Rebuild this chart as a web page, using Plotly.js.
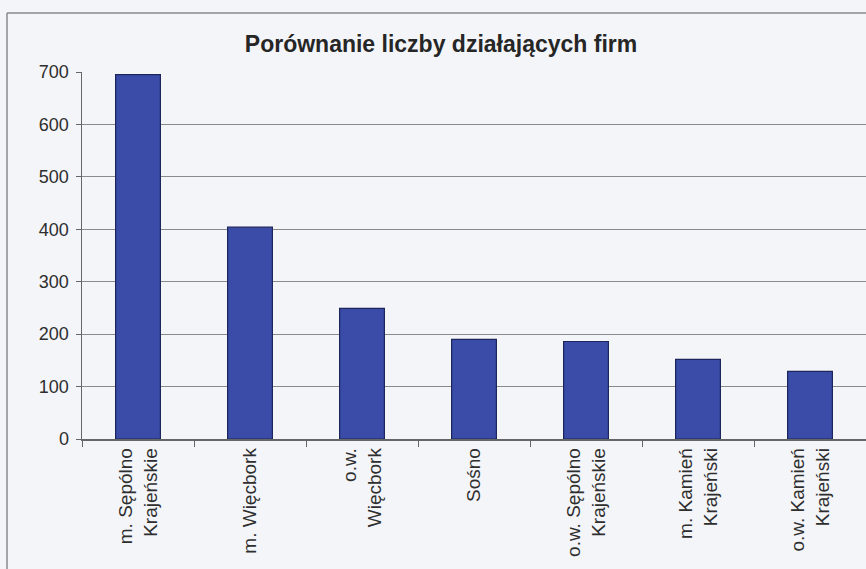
<!DOCTYPE html>
<html>
<head>
<meta charset="utf-8">
<script src="https://cdn.plot.ly/plotly-3.0.1.min.js"></script>
<style>html,body{margin:0;padding:0;background:#f4f5f9;}</style>
</head>
<body>
<div id="chart" style="width:866px;height:569px;"></div>
<script>
const categories = [
  "m. Sępólno<br>Krajeńskie",
  "m. Więcbork",
  "o.w.<br>Więcbork",
  "Sośno",
  "o.w. Sępólno<br>Krajeńskie",
  "m. Kamień<br>Krajeński",
  "o.w. Kamień<br>Krajeński"
];
const firmCounts = [695, 404, 249, 190, 186, 152, 129];
const yTicks = [0, 100, 200, 300, 400, 500, 600, 700];

const W = 866, H = 569;
const L = 82, R = 0, T = 72, B = 130;
const pw = W - L - R, ph = H - T - B;
function px(x){ return (x - L) / pw; }
function py(y){ return (H - B - y) / ph; }

const data = [{
  type: 'bar',
  x: categories,
  y: firmCounts,
  marker: {color: '#3a4ca8', line: {color: '#1c255c', width: 1.2}},
  hoverinfo: 'skip'
}];

const layout = {
  width: W, height: H,
  margin: {l: L, r: R, t: T, b: B, pad: 0},
  paper_bgcolor: '#f4f5f9',
  plot_bgcolor: '#f4f5f9',
  showlegend: false,
  bargap: 0.6,
  font: {family: 'Liberation Sans, Arial, sans-serif', color: '#2e2e2e', size: 18},
  title: {
    text: '<b>Porównanie liczby działających firm</b>',
    font: {family: 'Liberation Sans, Arial, sans-serif', size: 23, color: '#262626'},
    x: 441 / W, xref: 'container', xanchor: 'center',
    y: 1 - 44 / H, yref: 'container', yanchor: 'middle'
  },
  xaxis: {
    type: 'category',
    tickangle: -90,
    ticks: 'outside', ticklen: 6, tickcolor: '#666', tickson: 'boundaries',
    showline: true, linecolor: '#666', linewidth: 1.5,
    showgrid: false,
    tickfont: {size: 19, color: '#2e2e2e'},
    automargin: false
  },
  yaxis: {
    range: [0, 700],
    tickvals: yTicks,
    ticks: 'outside', ticklen: 5, tickcolor: '#666',
    ticklabelstandoff: 3,
    showline: true, linecolor: '#666', linewidth: 1.5,
    showgrid: true, gridcolor: '#8a8a8a', gridwidth: 1,
    zeroline: false,
    tickfont: {size: 18, color: '#2e2e2e'},
    automargin: false
  },
  shapes: [
    {type: 'line', xref: 'paper', yref: 'paper', x0: px(7), x1: px(866), y0: py(13), y1: py(13), line: {color: '#8a8a8a', width: 1.5}},
    {type: 'line', xref: 'paper', yref: 'paper', x0: px(7), x1: px(7), y0: py(13), y1: py(569), line: {color: '#8a8a8a', width: 1.5}}
  ]
};

Plotly.newPlot('chart', data, layout, {displayModeBar: false, staticPlot: true});
</script>
</body>
</html>
